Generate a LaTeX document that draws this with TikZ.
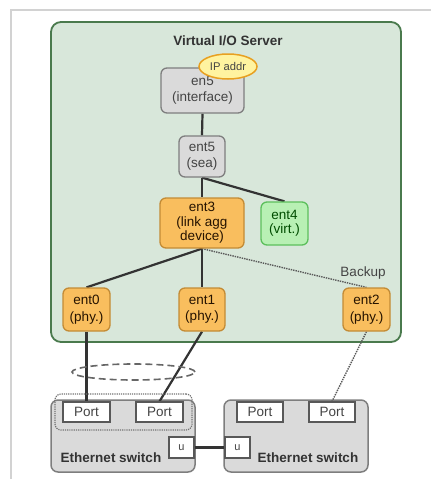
\documentclass[tikz,border=0pt]{standalone}
\usepackage{fontspec}
\setmainfont{Liberation Sans}
\usetikzlibrary{shapes.geometric}
\pgfdeclarelayer{back}
\pgfdeclarelayer{mid}
\pgfsetlayers{back,mid,main}
\definecolor{viosfill}{HTML}{D8E7DA}
\definecolor{viosdraw}{HTML}{4A7A4D}
\definecolor{grayfill}{HTML}{DADADA}
\definecolor{graydraw}{HTML}{7E7E7E}
\definecolor{orfill}{HTML}{F9BE5E}
\definecolor{ordraw}{HTML}{C38B35}
\definecolor{grfill}{HTML}{B8F0B4}
\definecolor{grdraw}{HTML}{5CBF5C}
\definecolor{ipfill}{HTML}{FFF3A0}
\definecolor{ipdraw}{HTML}{E8A020}
\definecolor{txt}{HTML}{444444}
\definecolor{frame}{HTML}{D2D2D2}
\tikzset{
  dev/.style={draw, rounded corners=6pt, line width=1.3pt, align=center, inner sep=0pt, text=txt,
    font=\fontsize{13.5}{16.5}\selectfont},
  graydev/.style={dev, fill=grayfill, draw=graydraw},
  ordev/.style={dev, fill=orfill, draw=ordraw, text=black!75!orange!60!black},
  grdev/.style={dev, fill=grfill, draw=grdraw, text=green!30!black},
  portbox/.style={draw=graydraw!70!black, fill=white, line width=1.2pt, inner sep=0pt, text=txt,
    font=\fontsize{13.5}{16}\selectfont, minimum height=20pt},
  ubox/.style={draw=graydraw!70!black, fill=white, line width=1.2pt, inner sep=0pt, text=txt,
    font=\fontsize{11}{13}\selectfont, minimum width=25pt, minimum height=21pt},
  swbox/.style={draw=graydraw, fill=grayfill, line width=1.5pt, rounded corners=7pt, inner sep=0pt,
    minimum width=144pt, minimum height=72pt},
  link/.style={line width=2.2pt, draw=black!80},
  backup/.style={line width=1.4pt, draw=black!65, densely dotted},
  lbl/.style={text=txt, font=\fontsize{13.5}{16}\selectfont, inner sep=0pt},
  blbl/.style={text=black!80, font=\fontsize{13.5}{16}\bfseries\selectfont, inner sep=0pt},
}
\begin{document}
\begin{tikzpicture}[x=1pt,y=-1pt]
\useasboundingbox (0,0) rectangle (431,479);
% page frame
\draw[frame, line width=1.5pt] (11,479) -- (11,10) -- (431,10);
% VIOS
\begin{pgfonlayer}{back}
\node[draw=viosdraw, fill=viosfill, line width=1.8pt, rounded corners=10pt, minimum width=350pt, minimum height=320pt, inner sep=0pt] (vios) at (226,182) {};
\node[swbox] (sw1) at (123,436) {};
\node[swbox] (sw2) at (296,436) {};
\end{pgfonlayer}
\node[blbl] (title) at (228,41) {Virtual I/O Server};
% devices
\node[graydev, minimum width=83pt, minimum height=45pt] (en5) at (202.5,90.5) {en5\\(interface)};
\node[draw=ipdraw, fill=ipfill, line width=1.5pt, ellipse, minimum width=58pt, minimum height=25pt, inner sep=0pt, text=txt, font=\fontsize{11.2}{13}\selectfont] (ip) at (228,66.5) {IP addr};
\node[graydev, minimum width=46pt, minimum height=41pt] (ent5) at (202,156.5) {ent5\\(sea)};
\node[ordev, minimum width=84pt, minimum height=50pt, font=\fontsize{13.5}{14.5}\selectfont] (ent3) at (202,223) {ent3\\(link agg\\device)};
\node[grdev, minimum width=47pt, minimum height=43pt, font=\fontsize{13.5}{14.5}\selectfont] (ent4) at (284.5,223.5) {ent4\\(virt.)};
\node[ordev, minimum width=47pt, minimum height=43pt] (ent0) at (86.5,309.5) {ent0\\(phy.)};
\node[ordev, minimum width=46pt, minimum height=43pt] (ent1) at (202,309.5) {ent1\\(phy.)};
\node[ordev, minimum width=47pt, minimum height=43pt] (ent2) at (366.5,309.5) {ent2\\(phy.)};
\node[lbl] (backuplbl) at (363,273) {Backup};
% switches
\node[draw=black!55, densely dotted, line width=1.2pt, rounded corners=6pt, minimum width=137pt, minimum height=36pt, inner sep=0pt] (lag) at (123.5,412) {};
\node[portbox, minimum width=47pt] (p1) at (86.5,412) {Port};
\node[portbox, minimum width=47pt] (p2) at (159.5,412) {Port};
\node[portbox, minimum width=46pt] (p3) at (260,412) {Port};
\node[portbox, minimum width=46pt] (p4) at (332,412) {Port};
\node[ubox] (u1) at (181.5,447.5) {u};
\node[ubox] (u2) at (237.5,447.5) {u};
\node[blbl] (sw1lbl) at (111,458) {Ethernet switch};
\node[blbl] (sw2lbl) at (308,458) {Ethernet switch};
% aggregation ellipse
\node[ellipse, draw=black!60, dash pattern=on 7pt off 4pt, line width=1.6pt, minimum width=123pt, minimum height=16pt, inner sep=0pt] (agg) at (133.5,372) {};
% connectors
\begin{pgfonlayer}{mid}
\draw[link] (en5.south) -- (ent5.north);
\draw[link] (ent5.south) -- (ent3.north);
\draw[link] (ent5.south) -- (ent4.north);
\draw[link] (ent3.south) -- (ent0.north);
\draw[link] (ent3.south) -- (ent1.north);
\draw[backup] (ent3.south) -- (ent2.north);
\draw[link] (ent0.south) -- (p1.north);
\draw[link] (ent1.south) -- (p2.north);
\draw[backup] (ent2.south) -- (p4.north);
\draw[link] (u1.east) -- (u2.west);
\end{pgfonlayer}
\end{tikzpicture}
\end{document}
